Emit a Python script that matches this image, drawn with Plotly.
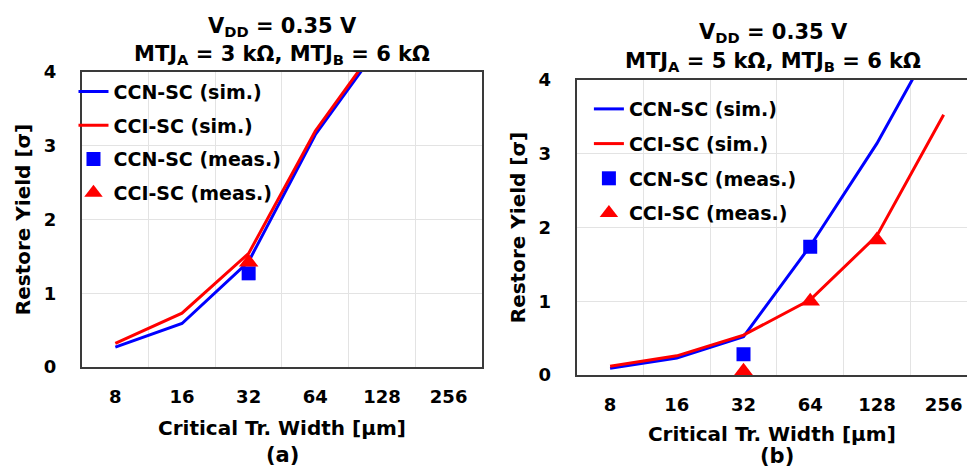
import plotly.graph_objects as go

widths = ["8", "16", "32", "64", "128", "256"]

# (a) MTJ_A = 3 kOhm
a_ccn_sim = [0.27, 0.59, 1.43, 3.15, 4.40, None]
a_cci_sim = [0.32, 0.73, 1.54, 3.20, 4.45, None]
a_ccn_meas = [None, None, 1.27, None, None, None]
a_cci_meas = [None, None, 1.42, None, None, None]

# (b) MTJ_A = 5 kOhm
b_ccn_sim = [0.09, 0.23, 0.52, 1.75, 3.14, 4.77]
b_cci_sim = [0.12, 0.26, 0.54, 1.02, 1.89, 3.53]
b_ccn_meas = [None, None, 0.28, 1.74, None, None]
b_cci_meas = [None, None, 0.05, 1.00, 1.83, None]

BLUE = "#0000FF"
RED = "#FF0000"
FONT = "DejaVu Sans"

fig = go.Figure()

def add_set(xa, ya, leg, ccn_sim, cci_sim, ccn_meas, cci_meas, tag):
    fig.add_trace(go.Scatter(x=widths, y=ccn_sim, mode="lines", name="CCN-SC (sim.)",
                             line=dict(color=BLUE, width=3), xaxis=xa, yaxis=ya,
                             legend=leg, legendgroup=tag + "1"))
    fig.add_trace(go.Scatter(x=widths, y=cci_sim, mode="lines", name="CCI-SC (sim.)",
                             line=dict(color=RED, width=3), xaxis=xa, yaxis=ya,
                             legend=leg, legendgroup=tag + "2"))
    fig.add_trace(go.Scatter(x=widths, y=ccn_meas, mode="markers", name="CCN-SC (meas.)",
                             marker=dict(color=BLUE, symbol="square", size=14), xaxis=xa, yaxis=ya,
                             legend=leg, legendgroup=tag + "3"))
    fig.add_trace(go.Scatter(x=widths, y=cci_meas, mode="markers", name="CCI-SC (meas.)",
                             marker=dict(color=RED, symbol="triangle-up", size=17), xaxis=xa, yaxis=ya,
                             legend=leg, legendgroup=tag + "4"))

add_set("x", "y", "legend", a_ccn_sim, a_cci_sim, a_ccn_meas, a_cci_meas, "a")
add_set("x2", "y2", "legend2", b_ccn_sim, b_cci_sim, b_ccn_meas, b_cci_meas, "b")

axis_line = dict(showline=True, linecolor="#3a3a3a", linewidth=2)
tickfont = dict(family=FONT, size=18, color="black", weight="bold")
titlefont = dict(family=FONT, size=20, color="black", weight="bold")

xcommon = dict(type="category", tickson="boundaries", showgrid=True, gridcolor="#e3e3e3",
               gridwidth=1, ticks="", tickfont=tickfont, ticklabelstandoff=12,
               mirror=True, automargin=False, **axis_line)
ycommon = dict(range=[0, 4], tickvals=[0, 1, 2, 3, 4], showgrid=True, gridcolor="#e3e3e3",
               gridwidth=1, ticks="", tickfont=tickfont, ticklabelstandoff=20,
               zeroline=False, automargin=False, **axis_line)

legfont = dict(family=FONT, size=19, color="black", weight="bold")

fig.update_layout(
    width=967, height=469,
    margin=dict(l=0, r=0, t=0, b=0),
    paper_bgcolor="white", plot_bgcolor="white",
    font=dict(family=FONT, color="black", weight="bold"),
    showlegend=True,
    xaxis=dict(domain=[0.0848, 0.4984], range=[-0.5, 5.5], anchor="y",
               title=dict(text="Critical Tr. Width [μm]", font=titlefont, standoff=15), **xcommon),
    yaxis=dict(domain=[0.2175, 0.8465], anchor="x", mirror=True,
               title=dict(text="Restore Yield [σ]", font=titlefont, standoff=8), **ycommon),
    xaxis2=dict(domain=[0.5964, 1.0], range=[-0.5, 5.35], anchor="y2",
                title=dict(text="Critical Tr. Width [μm]", font=titlefont, standoff=13), **xcommon),
    yaxis2=dict(domain=[0.2004, 0.8294], anchor="x2", mirror=False,
                title=dict(text="Restore Yield [σ]", font=titlefont, standoff=8), **ycommon),
    legend=dict(x=0.076, y=0.845, xanchor="left", yanchor="top", bgcolor="rgba(0,0,0,0)",
                font=legfont, tracegroupgap=6, itemwidth=30),
    legend2=dict(x=0.609, y=0.808, xanchor="left", yanchor="top", bgcolor="rgba(0,0,0,0)",
                 font=legfont, tracegroupgap=7, itemwidth=30),
)

ann_font = dict(family=FONT, size=21, color="black", weight="bold")
fig.add_annotation(text="V<sub>DD</sub> = 0.35 V", x=282 / 967, y=1 - 27 / 469, xref="paper", yref="paper",
                   showarrow=False, font=ann_font, xanchor="center", yanchor="middle")
fig.add_annotation(text="MTJ<sub>A</sub> = 3 kΩ, MTJ<sub>B</sub> = 6 kΩ", x=282 / 967, y=1 - 55 / 469,
                   xref="paper", yref="paper", showarrow=False, font=ann_font,
                   xanchor="center", yanchor="middle")
fig.add_annotation(text="V<sub>DD</sub> = 0.35 V", x=773 / 967, y=1 - 33 / 469, xref="paper", yref="paper",
                   showarrow=False, font=ann_font, xanchor="center", yanchor="middle")
fig.add_annotation(text="MTJ<sub>A</sub> = 5 kΩ, MTJ<sub>B</sub> = 6 kΩ", x=773 / 967, y=1 - 62 / 469,
                   xref="paper", yref="paper", showarrow=False, font=ann_font,
                   xanchor="center", yanchor="middle")
fig.add_annotation(text="(a)", x=282 / 967, y=1 - 455 / 469, xref="paper", yref="paper",
                   showarrow=False, font=ann_font, xanchor="center", yanchor="middle")
fig.add_annotation(text="(b)", x=777 / 967, y=1 - 456 / 469, xref="paper", yref="paper",
                   showarrow=False, font=ann_font, xanchor="center", yanchor="middle")

fig.write_html("out.html", config={"displayModeBar": False},
               post_script="document.body.style.margin='0';document.body.style.overflow='hidden';")
